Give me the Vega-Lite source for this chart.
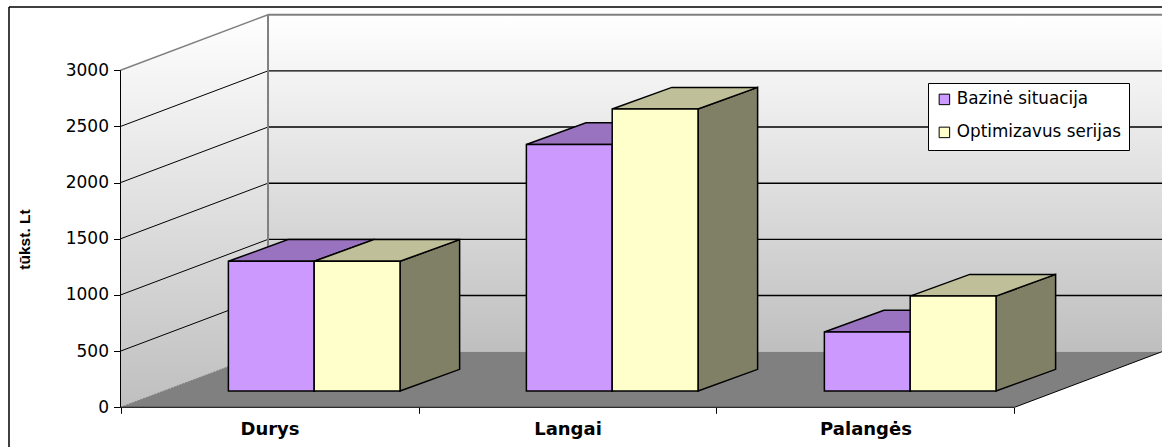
{
  "$schema": "https://vega.github.io/schema/vega-lite/v6.json",
  "width": 1162,
  "height": 447,
  "padding": 0,
  "autosize": "none",
  "background": "white",
  "view": {"stroke": null},
  "config": {"font": "DejaVu Sans"},
  "datasets": {
    "bars": [
      {"category": "Durys", "series": "Bazinė situacija", "value": 1155},
      {"category": "Durys", "series": "Optimizavus serijas", "value": 1155},
      {"category": "Langai", "series": "Bazinė situacija", "value": 2195},
      {"category": "Langai", "series": "Optimizavus serijas", "value": 2510},
      {"category": "Palangės", "series": "Bazinė situacija", "value": 525},
      {"category": "Palangės", "series": "Optimizavus serijas", "value": 845}
    ],
    "ticks": [{"tick": 500}, {"tick": 1000}, {"tick": 1500}, {"tick": 2000}, {"tick": 2500}],
    "one": [{"id": 1}],
    "leftWall": [
      {"u": 0, "low": 0, "high": 3000},
      {"u": 0.495, "low": 495, "high": 3495}
    ],
    "floor": [
      {"u": 0, "low": 0, "high": 0},
      {"u": 0.495, "low": 0, "high": 495},
      {"u": 3, "low": 0, "high": 495},
      {"u": 3.495, "low": 495, "high": 495}
    ]
  },
  "layer": [
    {
      "data": {"name": "one"},
      "mark": {
        "type": "rect",
        "fill": {"gradient": "linear", "x1": 0, "y1": 0, "x2": 0, "y2": 1,
          "stops": [{"offset": 0, "color": "#ffffff"}, {"offset": 1, "color": "#bfbfbf"}]}
      },
      "encoding": {
        "x": {
          "datum": 0.495, "type": "quantitative",
          "scale": {"domain": [-0.4044, 3.495], "nice": false, "zero": false},
          "axis": {
            "orient": "bottom", "offset": -39.7,
            "values": [0, 0.5, 1, 1.5, 2, 2.5, 3],
            "title": null, "grid": false, "domain": false,
            "tickSize": 6, "tickColor": "black",
            "tickOpacity": {"condition": {"test": "datum.value % 1 === 0", "value": 1}, "value": 0},
            "labelExpr": "datum.value === 0.5 ? 'Durys' : datum.value === 1.5 ? 'Langai' : datum.value === 2.5 ? 'Palangės' : ''",
            "labelFont": "DejaVu Sans", "labelFontWeight": "bold", "labelFontSize": 18,
            "labelColor": "black", "labelPadding": 7, "labelOverlap": false, "labelFlush": false
          }
        },
        "x2": {"datum": 3.495},
        "y": {
          "datum": 495, "type": "quantitative",
          "scale": {"domain": [-353.4, 3625.9], "nice": false, "zero": false},
          "axis": {
            "orient": "left", "offset": -120.5,
            "values": [0, 500, 1000, 1500, 2000, 2500, 3000],
            "format": "d",
            "title": "tūkst. Lt", "titleFont": "Liberation Sans", "titleFontWeight": "bold", "titleFontSize": 15.5,
            "titleX": -88, "titleY": 239, "titleColor": "black",
            "grid": false, "domain": false,
            "tickSize": 7, "tickColor": "black",
            "labelFont": "DejaVu Sans", "labelFontSize": 17, "labelColor": "black", "labelPadding": 5
          }
        },
        "y2": {"datum": 3495}
      }
    },
    {
      "data": {"name": "leftWall"},
      "mark": {
        "type": "area", "orient": "vertical",
        "fill": {"gradient": "linear", "x1": 0, "y1": 0, "x2": 0, "y2": 1,
          "stops": [{"offset": 0, "color": "#ffffff"}, {"offset": 1, "color": "#bfbfbf"}]}
      },
      "encoding": {
        "x": {"field": "u", "type": "quantitative"},
        "y": {"field": "low", "type": "quantitative", "stack": null},
        "y2": {"field": "high"}
      }
    },
    {
      "data": {"name": "floor"},
      "mark": {"type": "area", "orient": "vertical", "fill": "#808080"},
      "encoding": {
        "x": {"field": "u", "type": "quantitative"},
        "y": {"field": "low", "type": "quantitative", "stack": null},
        "y2": {"field": "high"}
      }
    },
    {
      "data": {"name": "ticks"},
      "transform": [
        {"calculate": "0", "as": "u0"},
        {"calculate": "0.495", "as": "u1"},
        {"calculate": "datum.tick + 495", "as": "back"}
      ],
      "mark": {"type": "rule", "color": "black", "strokeWidth": 1},
      "encoding": {
        "x": {"field": "u0", "type": "quantitative"},
        "x2": {"field": "u1"},
        "y": {"field": "tick", "type": "quantitative"},
        "y2": {"field": "back"}
      }
    },
    {
      "data": {"name": "ticks"},
      "transform": [
        {"calculate": "0.495", "as": "u0"},
        {"calculate": "3.495", "as": "u1"},
        {"calculate": "datum.tick + 495", "as": "back"}
      ],
      "mark": {"type": "rule", "color": "black", "strokeWidth": 1.4},
      "encoding": {
        "x": {"field": "u0", "type": "quantitative"},
        "x2": {"field": "u1"},
        "y": {"field": "back", "type": "quantitative"}
      }
    },
    {
      "data": {"name": "one"},
      "mark": {"type": "rule", "color": "#808080", "strokeWidth": 1.5},
      "encoding": {
        "x": {"datum": 0},
        "x2": {"datum": 0.495},
        "y": {"datum": 3000},
        "y2": {"datum": 3495}
      }
    },
    {
      "data": {"name": "one"},
      "mark": {"type": "rule", "color": "#808080", "strokeWidth": 1, "strokeDash": [2, 1]},
      "encoding": {
        "x": {"datum": 0},
        "x2": {"datum": 0.495},
        "y": {"datum": 0},
        "y2": {"datum": 495}
      }
    },
    {
      "data": {"name": "one"},
      "mark": {"type": "rule", "color": "#808080", "strokeWidth": 2},
      "encoding": {
        "x": {"datum": 0.495},
        "x2": {"datum": 3.495},
        "y": {"datum": 3495}
      }
    },
    {
      "data": {"name": "one"},
      "mark": {"type": "rule", "color": "#808080", "strokeWidth": 2},
      "encoding": {
        "x": {"datum": 0.495},
        "y": {"datum": 495},
        "y2": {"datum": 3495}
      }
    },
    {
      "data": {"name": "one"},
      "mark": {"type": "rule", "color": "black", "strokeWidth": 1},
      "encoding": {
        "x": {"datum": 0},
        "y": {"datum": 0},
        "y2": {"datum": 3000}
      }
    },
    {
      "data": {"name": "one"},
      "mark": {"type": "rule", "color": "black", "strokeWidth": 1},
      "encoding": {
        "x": {"datum": 0},
        "x2": {"datum": 3},
        "y": {"datum": 0}
      }
    },
    {
      "data": {"name": "one"},
      "mark": {"type": "rule", "color": "black", "strokeWidth": 1},
      "encoding": {
        "x": {"datum": 3},
        "x2": {"datum": 3.495},
        "y": {"datum": 0},
        "y2": {"datum": 495}
      }
    },
    {
      "data": {"name": "one"},
      "mark": {"type": "rule", "color": "black", "strokeWidth": 1.5},
      "encoding": {
        "x": {"datum": -0.3742},
        "y": {"datum": -353.4},
        "y2": {"datum": 3563}
      }
    },
    {
      "data": {"name": "one"},
      "mark": {"type": "rule", "color": "black", "strokeWidth": 1.5},
      "encoding": {
        "x": {"datum": -0.3742},
        "x2": {"datum": 3.495},
        "y": {"datum": 3563}
      }
    },
    {
      "data": {"name": "bars"},
      "transform": [
        {"calculate": "indexof(['Durys', 'Langai', 'Palangės'], datum.category)", "as": "idx"},
        {"calculate": "datum.series === 'Bazinė situacija' ? 0 : 1", "as": "s"},
        {"calculate": "datum.idx + 0.362 + (datum.s + 1) * 0.288", "as": "right"},
        {"calculate": "[datum.right, datum.right + 0.2]", "as": "px"},
        {"calculate": "[145, 338]", "as": "py"},
        {"calculate": "[datum.value + 145, datum.value + 338]", "as": "py2"},
        {"flatten": ["px", "py", "py2"]}
      ],
      "mark": {"type": "area", "orient": "vertical", "stroke": "black", "strokeWidth": 1.5, "strokeJoin": "miter"},
      "encoding": {
        "x": {"field": "px", "type": "quantitative"},
        "y": {"field": "py", "type": "quantitative", "stack": null},
        "y2": {"field": "py2"},
        "detail": [{"field": "category"}, {"field": "series"}],
        "fill": {
          "field": "series", "type": "nominal",
          "scale": {"domain": ["Bazinė situacija", "Optimizavus serijas"], "range": ["#66527f", "#808066"]},
          "legend": null
        }
      }
    },
    {
      "data": {"name": "bars"},
      "transform": [
        {"calculate": "indexof(['Durys', 'Langai', 'Palangės'], datum.category)", "as": "idx"},
        {"calculate": "datum.series === 'Bazinė situacija' ? 0 : 1", "as": "s"},
        {"calculate": "datum.idx + 0.362 + datum.s * 0.288", "as": "left"},
        {"calculate": "[datum.left, datum.left + 0.2, datum.left + 0.288, datum.left + 0.488]", "as": "px"},
        {"calculate": "[datum.value + 145, datum.value + 145, datum.value + 145, datum.value + 338]", "as": "py"},
        {"calculate": "[datum.value + 145, datum.value + 338, datum.value + 338, datum.value + 338]", "as": "py2"},
        {"flatten": ["px", "py", "py2"]}
      ],
      "mark": {"type": "area", "orient": "vertical", "stroke": "black", "strokeWidth": 1.5, "strokeJoin": "miter"},
      "encoding": {
        "x": {"field": "px", "type": "quantitative"},
        "y": {"field": "py", "type": "quantitative", "stack": null},
        "y2": {"field": "py2"},
        "detail": [{"field": "category"}, {"field": "series"}],
        "fill": {
          "field": "series", "type": "nominal",
          "scale": {"domain": ["Bazinė situacija", "Optimizavus serijas"], "range": ["#9a73c0", "#bfbf99"]},
          "legend": null
        }
      }
    },
    {
      "data": {"name": "bars"},
      "transform": [
        {"calculate": "indexof(['Durys', 'Langai', 'Palangės'], datum.category)", "as": "idx"},
        {"calculate": "datum.series === 'Bazinė situacija' ? 0 : 1", "as": "s"},
        {"calculate": "datum.idx + 0.362 + datum.s * 0.288", "as": "left"},
        {"calculate": "datum.left + 0.288", "as": "right"},
        {"calculate": "145", "as": "base"},
        {"calculate": "datum.value + 145", "as": "top"}
      ],
      "mark": {"type": "rect", "stroke": "black", "strokeWidth": 1.5},
      "encoding": {
        "x": {"field": "left", "type": "quantitative"},
        "x2": {"field": "right"},
        "y": {"field": "base", "type": "quantitative"},
        "y2": {"field": "top"},
        "fill": {
          "field": "series", "type": "nominal",
          "scale": {"domain": ["Bazinė situacija", "Optimizavus serijas"], "range": ["#cc99ff", "#ffffcc"]},
          "legend": {
            "title": null, "orient": "none", "legendX": 928, "legendY": 83,
            "fillColor": "white", "strokeColor": "black", "padding": 8,
            "symbolType": "square", "symbolSize": 110, "symbolStrokeColor": "black", "symbolStrokeWidth": 1,
            "labelFont": "DejaVu Sans", "labelFontSize": 16.8, "labelColor": "black", "labelLimit": 220,
            "rowPadding": 15
          }
        }
      }
    }
  ],
  "resolve": {"scale": {"fill": "independent"}}
}
